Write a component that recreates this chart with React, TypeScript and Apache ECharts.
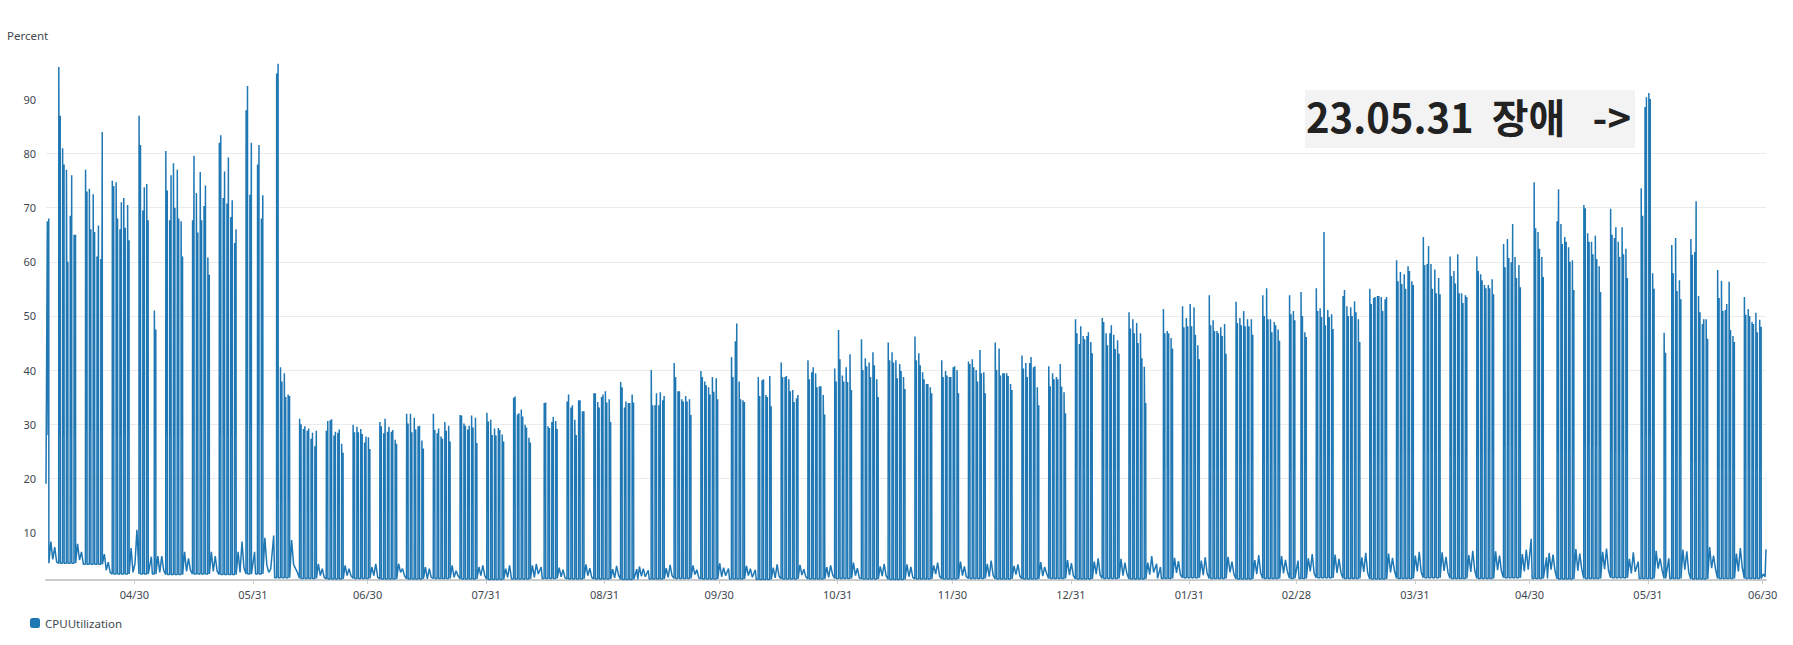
import React, { useEffect, useRef } from 'react';
import * as echarts from 'echarts';

// ---------- time frame (x is "days since the axis start") ----------
const DAY = 86400000;
const AXIS_START = Date.UTC(2022, 3, 6, 21);
const AXIS_DAYS = 450;
const FIRST_MONDAY = 3.32; // day on which the week-0 Monday load starts
const START_VALUE = 19;
const END_VALUE = 6.9;

const tickDates = [
  '2022-04-30', '2022-05-31', '2022-06-30', '2022-07-31', '2022-08-31', '2022-09-30',
  '2022-10-31', '2022-11-30', '2022-12-31', '2023-01-31', '2023-02-28', '2023-03-31',
  '2023-04-30', '2023-05-31', '2023-06-30',
];
const yTicks = [10, 20, 30, 40, 50, 60, 70, 80, 90];

// ---------- weekday peaks: each week = Mon..Fri, each day = [first peak, second peak], null = no load ----------
type Day = [number, number] | null;
const preWeek: Day[][] = [[null, null, null, null, [67.5, 68]]];
const apr2022: Day[][] = [
  [[96, 87], [81, 78], [77, 60], [68.5, 76], [65, 65]],
  [[77, 73], [73.5, 66], [72.5, 65.5], [61, 66.7], [60.5, 84]],
  [[75, 74], [74.7, 68], [66, 71], [71.8, 66.3], [70.5, 64]],
];
const may2022: Day[][] = [
  [[87, 81.6], [69.5, 73.8], [74.4, 67.7], null, [51, 47.5]],
  [[80.5, 73.2], [67.7, 76], [78.2, 70], [77, 68], [67.5, 61]],
  [[67.7, 79.6], [72.7, 65.4], [76.6, 67.7], [70.3, 74.1], [60.8, 57.6]],
  [[82, 83.4], [71.8, 76.7], [70.8, 79.3], [68.3, 71.4], [63.5, 66]],
  [[88, 92.5], [72.4, 82], null, [78, 81.6], [68, 72.3]],
];
const jun2022: Day[][] = [
  [null, [94.8, 96.6], [40.5, 37.9], [39.4, 35], [35.5, 35.2]],
  [[31, 30], [29.1, 29.6], [28.8, 29.2], [27.3, 28.4], [25.9, 28.8]],
  [[28.8, 30.6], [30.7, 30.9], [27.9, 28.6], [28.4, 29], [26.4, 24.7]],
  [[29.9, 28.5], [29.5, 28.5], [29.1, 28.2], [26.6, 27.7], [27.6, 25.4]],
];
const jul2022: Day[][] = [
  [[30.4, 29.6], [28.3, 31], [28.6, 29.5], [28.6, 28.9], [27.1, 26.4]],
  [[31.9, 30.1], [31.9, 28.5], [31.2, 29], [29.6, 29.7], [27, 25.5]],
  [[31.9, 28.9], [28.3, 29.2], [27.7, 27.3], [30.4, 28.8], [29.7, 26.8]],
  [[31.7, 31.6], [30.1, 29.7], [29, 29.7], [31.6, 29.4], [31.2, 26.5]],
];
const aug2022: Day[][] = [
  [[32.1, 30.5], [30.8, 28], [29.2, 27.9], [29.3, 28.9], [28.1, 26.8]],
  [[34.9, 35.1], [31.8, 32], [32.7, 31.4], [29.9, 29.4], [27.5, 26.6]],
  [null, [33.9, 34], [29.6, 29.3], [30.4, 31.3], [30.6, 29.1]],
  [[34.2, 35.5], [33.1, 33.5], [30.8, 28], [34.4, 34.4], [32.4, 32.4]],
];
const sep2022: Day[][] = [
  [[35.7, 35.7], [34.1, 33.1], [35, 35.5], [36.1, 34], [34.6, 30.4]],
  [[37.8, 36.8], [33.1, 34.2], [33.9, 33.9], [35.5, 34], null],
  [null, [40, 33.5], [33.5, 35.7], [33.5, 35.9], [34.4, 35.2]],
  [[41.3, 38.7], [36.1, 36.1], [34.6, 34.2], [35.2, 34.2], [34.6, 31.7]],
  [[39.8, 38.7], [37.9, 37.2], [36.8, 35.5], [38.7, 36], [38.5, 34.6]],
];
const oct2022: Day[][] = [
  [null, [42.4, 38.7], [45.3, 48.6], [37.9, 34.6], [34.4, 34.1]],
  [null, [38.7, 35.2], [38.1, 38.3], [35.4, 35], [38.9, 33.3]],
  [[41.4, 38.7], [38.7, 38.9], [38.3, 36.1], [36.3, 34.1], [34.8, 35.4]],
  [[41.8, 38.3], [39.6, 40.5], [39.4, 36.8], [37, 37], [35.4, 31.8]],
];
const nov2022: Day[][] = [
  [[40.3, 37.9], [47.4, 42], [39, 37.9], [40.5, 37.8], [42.9, 36.3]],
  [[45.7, 40], [42.2, 40.7], [41.4, 38.7], [43.3, 40.9], [38.3, 35]],
  [[45.1, 41.8], [43.3, 41.4], [41.8, 38.5], [41.1, 39.8], [38.7, 36.5]],
  [[46.2, 41.8], [43.1, 40.9], [39.6, 38.3], [37.4, 37.4], [36.8, 35.7]],
  [[41.8, 38.7], [39.8, 39], [38.7, 38.7], [40.5, 40.7], [40, 35.7]],
];
const dec2022: Day[][] = [
  [[41.6, 41.1], [42, 40.5], [40, 37.9], [43.7, 39.4], [39.6, 35.7]],
  [[45.1, 40], [44, 39], [39.4, 39.4], [39.4, 38.9], [37.4, 36.3]],
  [[42.7, 40.3], [41.3, 38.7], [41.3, 42.4], [40.5, 40.7], [36.8, 33.5]],
  [[40.7, 37], [39.4, 38.3], [38.7, 38.3], [41.1, 36.9], [35.9, 32]],
];
const jan2023: Day[][] = [
  [[49.4, 46.8], [44.8, 48.1], [46.3, 45.7], [46.3, 47], [45.2, 43.1]],
  [[49.6, 48.9], [46.8, 44.6], [46.8, 48.3], [46.5, 43.9], [45.5, 43]],
  [[50.7, 47.7], [49.4, 46.8], [48.7, 45], [46.8, 42.2], [40.6, 33.9]],
  [null, null, [51.3, 46.8], [47.2, 46.8], [45.9, 44]],
  [[51.8, 47.9], [49.6, 48.1], [52.2, 48.1], [51.6, 46.5], [44.6, 42]],
];
const feb2023: Day[][] = [
  [[53.8, 48.3], [49.2, 47.2], [47.2, 46.8], [47.9, 46.3], [48.5, 43]],
  [[52.6, 48.7], [49.6, 48.3], [50.9, 48.1], [49.4, 48.1], [49.4, 46.5]],
  [[53.8, 50], [55.1, 49.4], [49.4, 47], [48.9, 48.3], [47.5, 45.4]],
  [[53.8, 50.3], [50.9, 49.2], null, [54.4, 50], [47, 46.1]],
];
const mar2023: Day[][] = [
  [[55.1, 50.9], [51.4, 49.8], [65.5, 48.3], [51.1, 49.8], [50.3, 47.6]],
  [[53.7, 54.8], [51.8, 50], [51.6, 50], [52.7, 50.7], [49.4, 45.2]],
  [[55, 52.2], [53.3, 53.5], [53.7, 53.7], [53.5, 50.9], [53.1, 53.5]],
  [[60.3, 56.4], [58.1, 55.9], [57.7, 55], [59.2, 58.3], [56.4, 55.7]],
];
const apr2023: Day[][] = [
  [[64.6, 59.4], [59.6, 62.9], [59.6, 55], [58.6, 54.2], [57, 54]],
  [[61, 57.4], [58.3, 56], [61.4, 54.2], [54.2, 52.4], [53.8, 53.5]],
  [[61, 58.3], [57.7, 56.6], [55.7, 55.1], [55.7, 55.1], [56.8, 54]],
  [[63.3, 59], [64.2, 60.7], [59.9, 67], [60.9, 57], [59.4, 55.3]],
];
const may2023: Day[][] = [
  [null, [74.7, 66.2], [65.5, 62.4], [60.9, 57.2], null],
  [[67.5, 73.4], [67, 63.3], [64.6, 63.7], [62.7, 60], [60.3, 54.8]],
  [[70.5, 69.9], [65.3, 63.7], [63.7, 61.4], [64.8, 60.5], [59.2, 54.4]],
  [[69.8, 65], [64.4, 66.4], [63.7, 60.9], [66.4, 61.4], [62.4, 57]],
  [null, [73.6, 68.5], [88.6, 90.4], [91.2, 90.1], [57.9, 55]],
];
const jun2023: Day[][] = [
  [[46.9, 43.2], null, [63.1, 57.9], [64.4, 54.6], [56.6, 53.1]],
  [[64.2, 61.3], [61.8, 71.2], [53.7, 50.7], [48.5, 49.4], [49.4, 45.8]],
  [[58.5, 53.3], [56.5, 50.9], [51.1, 52.2], [56.3, 47.4], [46.3, 45.2]],
  [[53.5, 50.2], [51.3, 50], [48.9, 48.5], [50.6, 47], [49.3, 48]],
];

// ---------- lows: overnight level, mid-day dip, weekend values, holiday values ----------
const nightLow = [
  4.3, 4.3, 4.1, 2.3, 2.3, 2.2, 2.3, 2.2, 2.3, 1.6,
  1.5, 1.4, 1.5, 1.4, 1.4, 1.5, 1.4, 1.3, 1.4, 1.5,
  1.4, 1.4, 1.3, 1.4, 1.5, 1.4, 1.4, 1.3, 1.4, 1.4,
  1.5, 1.4, 1.3, 1.4, 1.4, 1.5, 1.4, 1.4, 1.5, 1.4,
  1.5, 1.4, 1.5, 1.6, 1.5, 1.4, 1.5, 1.5, 1.6, 1.5,
  1.4, 1.5, 1.6, 1.5, 1.5, 1.6, 1.5, 1.4, 1.5, 1.6,
  1.5, 1.5, 1.4, 1.5, 1.5,
];
const dayDip = [
  28, 28, 29, 28, 30, 28, 29, 28, 30, 16,
  14, 15, 14, 14, 15, 14, 15, 14, 15, 17,
  17, 18, 17, 18, 18, 19, 20, 19, 20, 20,
  21, 20, 21, 20, 20, 21, 20, 21, 20, 22,
  22, 23, 22, 23, 22, 23, 23, 22, 24, 23,
  24, 25, 25, 24, 25, 26, 27, 25, 26, 25,
  28, 24, 23, 22, 22,
];
const weekendQ2_2022 = [
  [8.3, 5, 7.3, 4.5], [7.9, 4.9, 6.4, 4.1], [6, 3, 4.5, 2.6], [7.1, 2.6, 4.2, 10.5],
  [5.6, 2.6, 5.6, 3], [6.4, 2.8, 5.2, 3], [6.4, 2.8, 5.6, 2.8], [6.4, 2.6, 8.3, 3.5],
  [9, 4, 2.6, 3.2], [8.6, 4.1, 3.3, 2.6], [4.2, 2, 3.3, 1.7], [3.9, 2, 3.3, 2], [3.6, 2, 4.2, 1.7],
];
const weekendQ3_2022 = [
  [4.2, 2.6, 3.3, 2], [3.6, 1.4, 3.3, 1.7], [3.9, 1.7, 2.9, 2], [3.6, 2, 3.9, 2],
  [3.3, 1.7, 3.9, 1.4], [3.9, 1.7, 4.2, 2.3], [3.5, 1.8, 3.1, 1.6], [4.1, 2, 3.4, 1.7],
  [3.2, 1.6, 3.8, 2.1], [3.7, 1.9, 3.3, 1.8], [3.4, 1.7, 4, 2], [3.9, 2.2, 3.1, 1.6], [4.3, 1.8, 3.5, 2],
];
const weekendQ4_2022 = [
  [3.8, 2, 3.3, 1.7], [3.5, 1.6, 4.1, 1.9], [4, 2.1, 3.2, 1.8], [3.6, 1.7, 3.9, 2.2],
  [4.4, 2, 3.4, 1.6], [3.7, 1.9, 4.2, 2], [4.1, 1.8, 3.6, 1.7], [3.9, 2.3, 4.4, 1.9],
  [4.6, 2, 3.7, 1.8], [4.2, 1.8, 4.8, 2.1], [3.8, 2.2, 4.1, 1.9], [4.5, 1.9, 3.6, 2.4], [4.9, 2.1, 4.3, 2],
];
const weekendQ1_2023 = [
  [4.6, 2.3, 5.2, 2.1], [5.1, 2, 4.4, 2.4], [4.4, 2.2, 5.6, 2.6], [5.3, 2.5, 4.7, 2.2],
  [4.8, 2.1, 5.4, 2.4], [5.5, 2.6, 4.6, 2.3], [4.9, 2.3, 5.8, 2.5], [5.6, 2.4, 4.9, 2.7],
  [5.2, 2.8, 6, 2.4], [5.9, 2.5, 5.1, 2.6], [5.4, 2.7, 6.2, 2.5], [6.1, 2.6, 5.3, 2.9], [5.7, 2.8, 6.4, 2.7],
];
const weekendQ2_2023 = [
  [6.3, 2.9, 5.5, 2.6], [5.8, 2.7, 6.6, 3], [6.5, 3, 5.7, 2.8], [6, 2.8, 6.8, 3.1],
  [6.2, 3.1, 5.9, 2.9], [6.9, 2.9, 6.1, 3.2], [6.4, 3.2, 7, 3], [5.1, 2.4, 6.3, 2.7],
  [6.6, 3.3, 5.2, 3.1], [6.8, 3.1, 6.5, 2.6], [7.3, 3.4, 5.7, 3.2], [6.1, 2.8, 7.1, 3.5], [2.3, 1.8, 3.5, 4],
];
const holidayValues = [5.5, 6.4, 9.4, 3.6, 3.2, 3.0, 3.3, 3.1, 4.2, 3.6, 4.8, 8.8, 5.4, 4.6, 5.2];

const SERIES_NAME = 'CPUUtilization';
const NOTE_TEXT = '23.05.31  장애   ->';

const weeks: Day[][] = [
  ...preWeek, ...apr2022, ...may2022, ...jun2022, ...jul2022, ...aug2022, ...sep2022,
  ...oct2022, ...nov2022, ...dec2022, ...jan2023, ...feb2023, ...mar2023, ...apr2023,
  ...may2023, ...jun2023,
];
const weekends = [...weekendQ2_2022, ...weekendQ3_2022, ...weekendQ4_2022, ...weekendQ1_2023, ...weekendQ2_2023];

function buildSeries(): [number, number][] {
  const data: [number, number][] = [[0, START_VALUE]];
  let h = 0;
  weeks.forEach((week, i) => {
    const base = FIRST_MONDAY + 7 * (i - 1);
    const low = nightLow[i];
    const dip = dayDip[i];
    week.forEach((day, k) => {
      const s = base + k;
      if (s < 0) return;
      if (day) {
        if (i > 0) data.push([s, low]);
        data.push([s + 0.03, day[0]], [s + 0.22, dip], [s + 0.4, day[1]], [s + 0.43, low]);
      } else {
        data.push([s + 0.25, holidayValues[h++]], [s + 0.5, low]);
      }
    });
    const fridayEnd = base + 4.43;
    weekends[i].forEach((v, j) => {
      const t = fridayEnd + (j + 1) * 0.51;
      if (t < AXIS_DAYS) data.push([t, v]);
    });
  });
  data.push([AXIS_DAYS, END_VALUE]);
  return data;
}

const tickOffsets = tickDates.map((d) => {
  const [y, m, dd] = d.split('-').map(Number);
  return (Date.UTC(y, m - 1, dd) - AXIS_START) / DAY;
});

function fmtDate(v: number): string {
  const d = new Date(Math.round(AXIS_START + v * DAY));
  const mm = String(d.getUTCMonth() + 1).padStart(2, '0');
  const dd = String(d.getUTCDate()).padStart(2, '0');
  return `${mm}/${dd}`;
}

const TEXT_COLOR = '#414750';
const FONT = '"Noto Sans", "Open Sans", sans-serif';

export default function App() {
  const ref = useRef<HTMLDivElement>(null);
  useEffect(() => {
    document.body.style.margin = '0';
    document.body.style.overflow = 'hidden';
    if (!ref.current) return;
    const chart = echarts.init(ref.current, undefined, { renderer: 'svg' });
    chart.setOption({
      animation: false,
      backgroundColor: '#ffffff',
      title: {
        text: 'Percent',
        left: 7,
        top: 29.5,
        padding: 0,
        textStyle: { fontSize: 11.5, fontWeight: 'normal', color: TEXT_COLOR, fontFamily: FONT },
      },
      legend: {
        data: [SERIES_NAME],
        left: 30,
        top: 617,
        padding: 0,
        itemWidth: 10,
        itemHeight: 10,
        itemGap: 10,
        icon: 'roundRect',
        textStyle: { fontSize: 11.5, color: TEXT_COLOR, fontFamily: FONT },
      },
      grid: { left: 46, right: 27, top: 61.6, bottom: 65, containLabel: false },
      xAxis: {
        type: 'value',
        min: 0,
        max: AXIS_DAYS,
        axisLine: { show: true, onZero: false, lineStyle: { color: '#cccccc', width: 2 } },
        axisTick: { show: true, length: 4, customValues: tickOffsets, lineStyle: { color: '#cccccc' } },
        axisLabel: {
          customValues: tickOffsets,
          formatter: (v: number) => fmtDate(v),
          margin: 9,
          fontSize: 11,
          color: TEXT_COLOR,
          fontFamily: FONT,
        },
        splitLine: { show: false },
      },
      yAxis: {
        type: 'value',
        min: 1.2,
        max: 97,
        axisLine: { show: false },
        axisTick: { show: false, customValues: yTicks },
        axisLabel: {
          customValues: yTicks,
          margin: 10,
          fontSize: 11,
          color: TEXT_COLOR,
          fontFamily: FONT,
        },
        splitLine: { show: true, showMinLine: false, showMaxLine: false, lineStyle: { color: '#ebebeb', width: 1 } },
      },
      series: [
        {
          name: SERIES_NAME,
          type: 'line',
          data: buildSeries(),
          showSymbol: false,
          symbol: 'none',
          silent: true,
          clip: true,
          itemStyle: { color: '#1f77b4' },
          lineStyle: { color: '#1f77b4', width: 1.5 },
        },
      ],
      graphic: [
        {
          type: 'group',
          z: 100,
          children: [
            {
              type: 'rect',
              shape: { x: 1305, y: 90, width: 330, height: 58 },
              style: { fill: '#f3f3f3' },
            },
            {
              type: 'text',
              x: 1306,
              y: 116,
              style: {
                text: NOTE_TEXT,
                font: 'bold 40px "Noto Sans CJK KR", sans-serif',
                fill: '#222222',
                textAlign: 'left',
                textVerticalAlign: 'middle',
              },
            },
          ],
        },
      ],
    });
    return () => chart.dispose();
  }, []);
  return <div ref={ref} style={{ width: 1793, height: 645 }} />;
}
